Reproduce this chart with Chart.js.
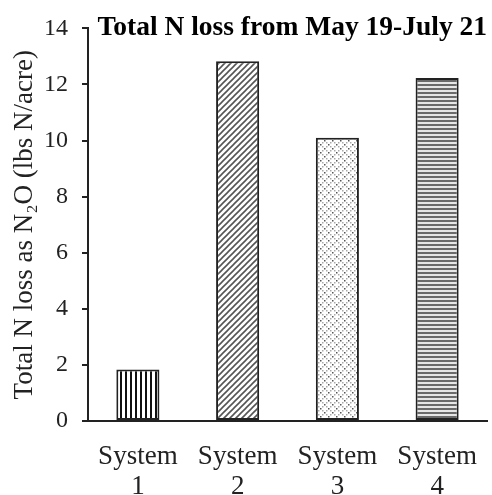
<!DOCTYPE html>
<html>
<head>
<meta charset="utf-8">
<script src="https://cdn.jsdelivr.net/npm/chart.js@4.4.1/dist/chart.umd.min.js"></script>
<style>
  html, body { margin: 0; padding: 0; background: #fff; }
  #wrap { width: 492px; height: 495px; position: relative; }
</style>
</head>
<body>
<div id="wrap"><canvas id="c" width="492" height="495"></canvas></div>
<script>
const categories = [['System', '1'], ['System', '2'], ['System', '3'], ['System', '4']];
const nLoss = [1.84, 12.83, 10.1, 12.23];
const yTicks = [0, 2, 4, 6, 8, 10, 12, 14];
const chartTitle = 'Total N loss from May 19-July 21';
const yTitle = 'Total N loss as N\u2082O (lbs N/acre)';

function makePattern(size, draw) {
  const c = document.createElement('canvas');
  c.width = size; c.height = size;
  const g = c.getContext('2d');
  g.fillStyle = '#fff';
  g.fillRect(0, 0, size, size);
  draw(g, size);
  return g.createPattern(c, 'repeat');
}
const patVertical = makePattern(5, (g, s) => { g.fillStyle = '#111'; g.fillRect(0, 0, 2, s); });
const patDiagonal = makePattern(6, (g, s) => {
  g.strokeStyle = '#555'; g.lineWidth = 1.6;
  g.beginPath();
  g.moveTo(-1, s + 1); g.lineTo(s + 1, -1);
  g.moveTo(-1, 1); g.lineTo(1, -1);
  g.moveTo(s - 1, s + 1); g.lineTo(s + 1, s - 1);
  g.stroke();
});
const patDots = makePattern(8, (g, s) => {
  [[0,0],[4,4],[2,2],[6,6],[6,2],[2,6]].forEach(([x, y], i) => {
    g.fillStyle = i < 2 ? '#555' : '#aaa';
    g.fillRect(x, y, 1.5, 1.5);
  });
});
const patHorizontal = makePattern(4, (g, s) => {
  g.fillStyle = '#e6e6e6'; g.fillRect(0, 0, s, s);
  g.fillStyle = '#6a6a6a'; g.fillRect(0, 0, s, 2);
});

const titlePlugin = {
  id: 'cornerTitle',
  afterDraw(chart) {
    const { ctx, chartArea } = chart;
    ctx.save();
    ctx.font = 'bold 27.5px "Liberation Serif", "Times New Roman", serif';
    ctx.fillStyle = '#000';
    ctx.textAlign = 'right';
    ctx.textBaseline = 'alphabetic';
    ctx.fillText(chartTitle, chartArea.right, chartArea.top + 7);
    ctx.restore();
  }
};

const serif = '"Liberation Serif", "Times New Roman", serif';

new Chart(document.getElementById('c'), {
  type: 'bar',
  data: {
    labels: categories,
    datasets: [{
      data: nLoss,
      backgroundColor: [patVertical, patDiagonal, patDots, patHorizontal],
      borderColor: '#222',
      borderWidth: 2,
      borderSkipped: false,
      barPercentage: 0.54,
      categoryPercentage: 0.8
    }]
  },
  options: {
    responsive: false,
    animation: false,
    devicePixelRatio: 1,
    layout: { padding: { top: 25, right: 5, left: 0, bottom: 0 } },
    plugins: { legend: { display: false }, tooltip: { enabled: false } },
    scales: {
      x: {
        grid: { display: false, drawTicks: false },
        border: { display: true, color: '#222', width: 2 },
        ticks: { color: '#222', font: { family: serif, size: 27, lineHeight: 1.1 }, padding: 21, maxRotation: 0 },
        afterFit(scale) { scale.height = 74; scale.paddingLeft = 0; scale.paddingRight = 0; }
      },
      y: {
        min: 0, max: 14,
        afterBuildTicks(scale) { scale.ticks = yTicks.map(v => ({ value: v })); },
        grid: { drawOnChartArea: false, drawTicks: true, tickLength: 6, color: '#222', lineWidth: 2 },
        border: { display: true, color: '#222', width: 2 },
        ticks: { color: '#222', font: { family: serif, size: 24 }, padding: 14 },
        title: { display: true, text: yTitle, color: '#222', font: { family: serif, size: 27 }, padding: { top: 9, bottom: 0 } },
        afterFit(scale) { scale.width = 88; }
      }
    }
  },
  plugins: [titlePlugin]
});
</script>
</body>
</html>
